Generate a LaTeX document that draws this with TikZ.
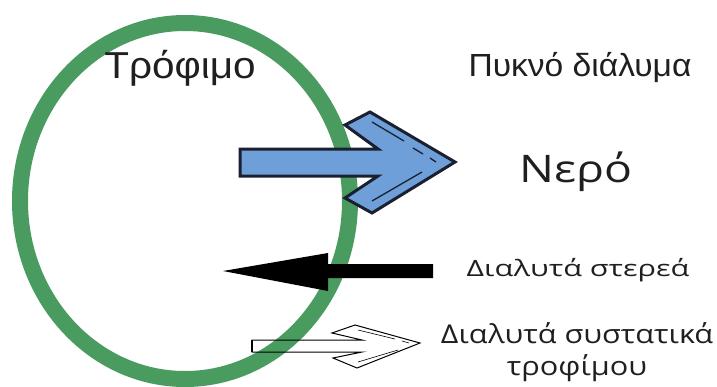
\documentclass[tikz,border=0pt]{standalone}
\usepackage{fontspec}
\setmainfont{Open Sans}
\newfontfamily\arialfont{Liberation Sans}
\definecolor{ringgreen}{RGB}{74,155,96}
\definecolor{arrowblue}{RGB}{111,159,216}
\definecolor{navy}{RGB}{26,32,48}
\begin{document}
\begin{tikzpicture}[x=1pt,y=-1pt,
  lbl/.style={inner sep=0pt, text=black!88, align=center},
  outline/.style={line join=miter, line width=3pt, draw=navy},
  hl/.style={line width=1.3pt, draw=navy}]
\useasboundingbox (0,0) rectangle (717,386);
% ring
\draw[ringgreen, line width=16pt] (185,201) ellipse [x radius=165, y radius=178];
% labels
\node[lbl, font=\arialfont\fontsize{37.5}{40}\selectfont] (food) at (180,68) {\scalebox{1.08}[1]{Τρόφιμο}};
\node[lbl, font=\arialfont\fontsize{32}{36}\selectfont] (conc) at (580,68) {\scalebox{1.05}[1]{Πυκνό διάλυμα}};
\node[lbl, font=\fontsize{38}{42}\selectfont] (water) at (576,172) {\scalebox{1.22}[1]{Νερό}};
\node[lbl, font=\fontsize{22.5}{26}\selectfont] (solids) at (578,270) {\scalebox{1.36}[1]{Διαλυτά στερεά}};
\node[lbl, font=\fontsize{26}{32}\selectfont] (comp) at (577,352) {\scalebox{1.18}[1]{Διαλυτά συστατικά}\\\scalebox{1.18}[1]{τροφίμου}};
% blue arrow
\draw[outline, fill=arrowblue] (240,149) -- (378,149) -- (345,125) -- (370,112) -- (455,162) -- (372,213) -- (345,198) -- (378,176) -- (240,176) -- cycle;
\draw[hl] (372,122) -- (404,141);
\draw[hl] (413,148) -- (423,154);
\draw[hl] (430,158) -- (436,162);
\draw[hl] (372,201) -- (422,172);
% black arrow
\fill[black] (433,264) -- (328,264) -- (328,253) -- (223,271) -- (328,291) -- (328,278) -- (433,278) -- cycle;
% white arrow
\draw[line width=1pt, line join=miter] (252,340) -- (362,340) -- (332,333) -- (355,325) -- (420,343) -- (357,368) -- (333,358) -- (362,352) -- (252,352) -- cycle;
\draw[line width=2.5pt] (252,340) -- (252,352);
\draw[line width=0.6pt] (358,330) -- (395,339);
\draw[line width=0.6pt] (402,341) -- (409,343);
\draw[line width=0.6pt] (358,362) -- (398,350);
\end{tikzpicture}
\end{document}
